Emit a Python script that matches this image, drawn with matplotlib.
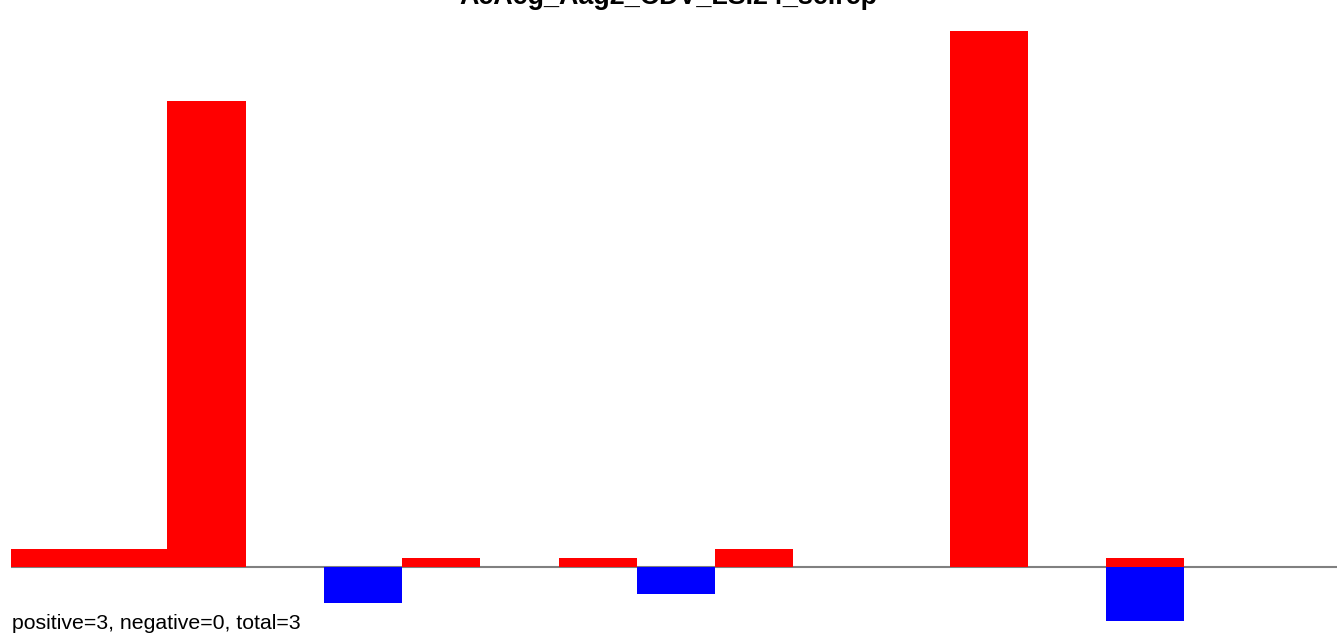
import matplotlib
matplotlib.use("Agg")
import matplotlib.pyplot as plt
import numpy as np

plt.rcParams['font.family'] = ['Liberation Sans', 'DejaVu Sans']

title = "AeAeg_Aag2_CDV_LSI24_selrep"
summary = "positive=3, negative=0, total=3"

# one value per slot (arbitrary units)
pos_vals = [1.9, 1.9, 51.7, 0, 0, 1.0, 0, 1.0, 0, 1.9, 0, 0, 59.5, 0, 1.0, 0, 0]
neg_vals = [0, 0, 0, 0, -4.0, 0, 0, 0, -3.0, 0, 0, 0, 0, 0, -6.0, 0, 0]

W, H = 1337, 634
fig = plt.figure(figsize=(W / 100, H / 100), dpi=100)
ax = fig.add_axes([11 / W, 0, (W - 11) / W, 1])

x = np.arange(len(pos_vals))
ax.axhline(0, color='#808080', lw=1.5, zorder=1)
ax.bar(x, pos_vals, width=1, align='edge', color='#ff0000', linewidth=0, zorder=2)
ax.bar(x, neg_vals, width=1, align='edge', color='#0000ff', linewidth=0, zorder=2)

scale = 9.0  # px per unit
zero_px = 566.5
ax.set_xlim(0, 16.95)
ax.set_ylim(-(H - zero_px) / scale, zero_px / scale)
ax.axis('off')

fig.text(0.5, 1 - 4 / H, title, ha='center', va='baseline',
         fontsize=19.4, fontweight='bold')
fig.text(12 / W, 1 - 629 / H, summary, ha='left', va='baseline', fontsize=15.3)

fig.savefig("out.png", dpi=100)
